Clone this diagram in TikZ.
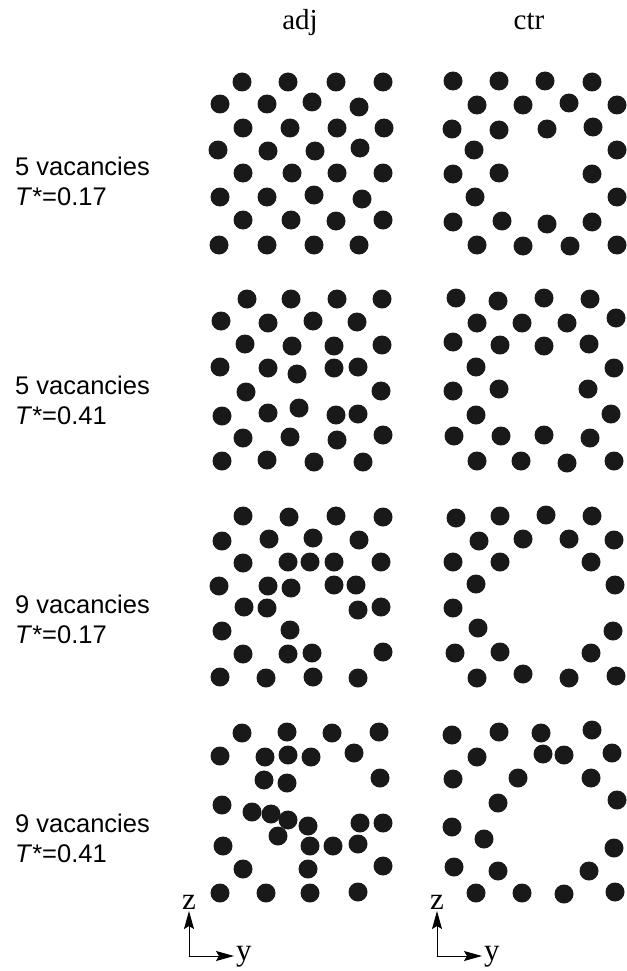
\documentclass[tikz,border=0pt]{standalone}
\usepackage{fontspec}
\setmainfont{Liberation Serif}
\newfontfamily\sansfont{Liberation Sans}
\usetikzlibrary{arrows.meta}

\begin{document}
\begin{tikzpicture}[x=1pt, y=-1pt, line join=round, line cap=round,
    atom/.style={fill=black!90},
    lbl/.style={anchor=base west, inner sep=0pt, font=\sansfont\fontsize{25.5}{30}\selectfont},
    hdr/.style={anchor=base, inner sep=0pt, font=\fontsize{29}{34}\selectfont},
    axis/.style={line width=1pt, -{Stealth[length=18pt, width=10pt, inset=3pt]}},
    axlbl/.style={inner sep=0pt, font=\fontsize{31}{36}\selectfont}]

    % パラメータの定義
    \pgfmathsetmacro{\R}{9.5} % 原子の半径

    % 図の範囲
    \useasboundingbox (0,0) rectangle (626,971);

    % 列の見出し
    \node[hdr] (adj) at (300,30) {adj};
    \node[hdr] (ctr) at (529,30) {ctr};

    % 行のラベル
    \foreach \i/\nv/\tv/\bl in {1/5/0.17/175, 2/5/0.41/394, 3/9/0.17/613, 4/9/0.41/832} {
        \node[lbl] (vac\i) at (15,\bl) {\nv\ vacancies};
        \node[lbl] (tmp\i) at (15,\bl+30) {\textit{T}*=\tv};
    }

    % 原子 (adj, 5 vacancies, T*=0.17)
    \foreach \x/\y in {242/82, 288/82, 336/82, 383/82,
        220/104, 267/104, 312/102, 359/107,
        243/128, 290/128, 337/128, 384/128,
        218/150, 268/151, 315/151, 360/148,
        243/173, 292/173, 337/173, 383/173,
        220/197, 267/197, 314/195, 362/199,
        243/220, 291/220, 336/221, 383/220,
        219/245, 267/245, 314/245, 359/245}
        \fill[atom] (\x,\y) circle [radius=\R pt];

    % 原子 (ctr, 5 vacancies, T*=0.17)
    \foreach \x/\y in {453/81, 499/81, 545/81, 592/82,
        477/105, 523/105, 569/103, 617/105,
        452/129, 499/130, 547/129, 593/127,
        474/150, 617/150,
        453/174, 499/173, 592/174,
        475/197, 617/197,
        453/222, 502/221, 547/224, 592/222,
        477/245, 523/246, 570/246, 617/245}
        \fill[atom] (\x,\y) circle [radius=\R pt];

    % 原子 (adj, 5 vacancies, T*=0.41)
    \foreach \x/\y in {247/299, 291/299, 337/299, 382/299,
        221/321, 268/323, 313/321, 357/322,
        245/344, 292/346, 334/346, 382/345,
        220/367, 268/368, 297/374, 334/368, 358/367,
        246/392, 381/391,
        222/416, 268/413, 299/408, 336/415, 358/414,
        243/438, 290/437, 337/440, 383/435,
        222/461, 267/460, 314/462, 363/462}
        \fill[atom] (\x,\y) circle [radius=\R pt];

    % 原子 (ctr, 5 vacancies, T*=0.41)
    \foreach \x/\y in {456/298, 498/301, 544/298, 590/299,
        477/323, 522/323, 567/323, 616/318,
        453/342, 500/345, 544/346, 589/344,
        476/367, 614/368,
        453/391, 499/389, 588/389,
        476/415, 611/414,
        454/436, 501/436, 544/435, 590/438,
        477/461, 521/461, 567/463, 614/461}
        \fill[atom] (\x,\y) circle [radius=\R pt];

    % 原子 (adj, 9 vacancies, T*=0.17)
    \foreach \x/\y in {243/516, 289/517, 336/516, 383/517,
        222/541, 269/539, 313/538, 359/540,
        243/563, 288/562, 310/562, 334/562, 381/562,
        219/586, 268/586, 291/588, 334/585, 356/585,
        244/607, 267/608, 358/610, 381/607,
        222/631, 290/630,
        243/654, 288/654, 312/653, 383/652,
        220/677, 266/678, 313/677, 358/678}
        \fill[atom] (\x,\y) circle [radius=\R pt];

    % 原子 (ctr, 9 vacancies, T*=0.17)
    \foreach \x/\y in {456/518, 500/516, 546/515, 592/516,
        479/541, 523/539, 569/539, 614/540,
        453/562, 500/562, 591/562,
        476/584, 615/585,
        453/608,
        478/628, 613/631,
        455/653, 500/652, 591/653,
        477/678, 523/674, 569/678, 616/676}
        \fill[atom] (\x,\y) circle [radius=\R pt];

    % 原子 (adj, 9 vacancies, T*=0.41)
    \foreach \x/\y in {242/733, 287/732, 332/733, 379/732,
        220/756, 265/757, 288/755, 311/757, 354/753,
        264/780, 287/783, 380/778,
        222/805, 252/812, 271/814, 288/820, 308/826, 360/823, 383/823,
        278/836,
        223/846, 310/846, 333/846, 358/844,
        243/869, 308/869, 383/866,
        220/893, 266/893, 310/893, 358/892}
        \fill[atom] (\x,\y) circle [radius=\R pt];

    % 原子 (ctr, 9 vacancies, T*=0.41)
    \foreach \x/\y in {452/735, 499/732, 541/733, 592/730,
        477/757, 543/754, 564/755, 612/753,
        453/779, 518/778, 591/778,
        498/803, 617/800,
        452/827, 484/839,
        614/848,
        454/867, 498/871, 589/871,
        476/893, 522/893, 564/894, 615/892}
        \fill[atom] (\x,\y) circle [radius=\R pt];

    % 座標軸
    \coordinate (O1) at (189,956);
    \coordinate (Z1) at (189,911);
    \coordinate (Y1) at (234,956);
    \coordinate (O2) at (437,956);
    \coordinate (Z2) at (437,911);
    \coordinate (Y2) at (482,956);
    \draw[axis] (O1) -- (Z1);
    \draw[axis] (O1) -- (Y1);
    \draw[axis] (O2) -- (Z2);
    \draw[axis] (O2) -- (Y2);
    \node[axlbl, anchor=base] (z1) at (Z1) [yshift=2pt] {z};
    \node[axlbl, anchor=base west] (y1) at (236,960) {y};
    \node[axlbl, anchor=base] (z2) at (Z2) [yshift=2pt] {z};
    \node[axlbl, anchor=base west] (y2) at (484,960) {y};

\end{tikzpicture}
\end{document}
